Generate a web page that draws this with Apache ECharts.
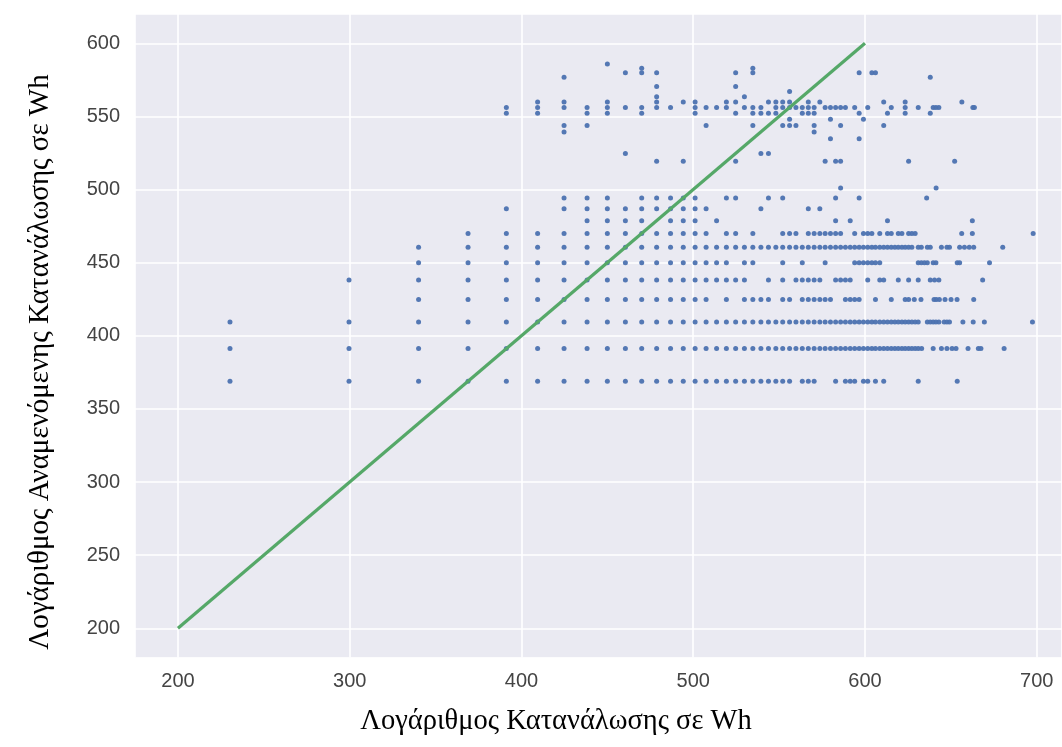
<!DOCTYPE html>
<html>
<head>
<meta charset="utf-8">
<title>Λογάριθμος Κατανάλωσης</title>
<script src="https://cdn.jsdelivr.net/npm/echarts@6/dist/echarts.min.js"></script>
<style>
  html, body { margin: 0; padding: 0; background: #ffffff; }
  #chart { width: 1062px; height: 747px; }
</style>
</head>
<body>
<div id="chart"></div>
<script>
// Axis titles
const xTitle = 'Λογάριθμος Κατανάλωσης σε Wh';
const yTitle = 'Λογάριθμος Αναμενόμενης Κατανάλωσης σε Wh';

// Reference line y = x, drawn between these two values
const diagonalEnds = [200, 600];

// Predicted values (rows) and the consumption values observed at each row
const predRows = [368.9, 391.2, 409.4, 424.8, 438.2, 450.0, 460.5, 470.0, 478.7, 486.8, 494.2, 501.1];

const actual368 = [230.3, 299.6, 340.1, 368.9, 391.2, 409.4, 424.8, 438.2, 450.0, 460.5, 470.0, 478.7, 486.8, 494.2, 501.1, 507.5, 513.6, 519.3, 524.7, 529.8, 534.7, 539.4, 543.8, 548.1, 552.1, 556.1, 563.5, 567.0, 570.4, 582.9, 588.6, 591.4, 594.0, 599.1, 601.6, 606.1, 610.9, 631.0, 653.7];
const actual391 = [230.3, 299.6, 340.1, 368.9, 391.2, 409.4, 424.8, 438.2, 450.0, 460.5, 470.0, 478.7, 486.8, 494.2, 501.1, 507.5, 513.6, 519.3, 524.7, 529.8, 534.7, 539.4, 543.8, 548.1, 552.1, 556.1, 559.8, 563.5, 567.0, 570.4, 573.7, 576.8, 579.9, 582.9, 585.8, 588.6, 591.4, 594.0, 596.6, 599.1, 601.6, 604.0, 606.1, 608.6, 610.9, 613.1, 615.3, 617.4, 619.4, 621.5, 623.4, 625.4, 627.3, 629.2, 631.0, 633.0, 639.7, 644.5, 647.7, 650.7, 653.0, 660.0, 666.0, 667.5, 681.0];
const actual409 = [230.3, 299.6, 340.1, 368.9, 391.2, 409.4, 424.8, 438.2, 450.0, 460.5, 470.0, 478.7, 486.8, 494.2, 501.1, 507.5, 513.6, 519.3, 524.7, 529.8, 534.7, 539.4, 543.8, 548.1, 552.1, 556.1, 559.8, 563.5, 567.0, 570.4, 573.7, 576.8, 579.9, 582.9, 585.8, 588.6, 591.4, 594.0, 596.6, 599.1, 601.6, 604.0, 606.1, 608.6, 610.9, 613.1, 615.3, 617.4, 619.4, 621.5, 623.4, 625.4, 627.3, 629.2, 631.0, 636.3, 638.0, 639.7, 641.3, 643.0, 646.1, 647.7, 649.2, 657.0, 663.0, 669.5, 697.5];
const actual424 = [340.1, 368.9, 391.2, 409.4, 424.8, 438.2, 450.0, 460.5, 470.0, 478.7, 486.8, 494.2, 501.1, 507.5, 519.3, 529.8, 534.7, 539.4, 543.8, 552.1, 556.1, 563.5, 567.0, 570.4, 573.7, 576.8, 579.9, 588.6, 591.4, 594.0, 596.6, 606.1, 615.3, 623.4, 625.4, 628.7, 632.6, 640.2, 641.5, 643.3, 646.6, 650.1, 653.6, 663.3];
const actual438 = [299.6, 340.1, 368.9, 391.2, 409.4, 424.8, 438.2, 450.0, 460.5, 470.0, 478.7, 486.8, 494.2, 501.1, 507.5, 513.6, 519.3, 524.7, 529.8, 543.8, 552.1, 559.8, 563.5, 567.0, 570.4, 573.7, 582.9, 585.8, 588.6, 591.4, 601.6, 608.6, 610.9, 619.4, 625.4, 631.0, 638.0, 640.5, 643.0, 668.5];
const actual450 = [340.1, 368.9, 391.2, 409.4, 424.8, 438.2, 450.0, 460.5, 470.0, 478.7, 486.8, 494.2, 501.1, 507.5, 513.6, 519.3, 529.8, 534.7, 552.1, 563.5, 576.8, 594.0, 596.6, 599.1, 601.6, 604.0, 606.1, 608.6, 631.0, 632.8, 634.6, 636.3, 639.7, 641.3, 653.7, 655.1, 672.5];
const actual460 = [340.1, 368.9, 391.2, 409.4, 424.8, 438.2, 450.0, 460.5, 470.0, 478.7, 486.8, 494.2, 501.1, 507.5, 513.6, 519.3, 524.7, 529.8, 534.7, 539.4, 543.8, 548.1, 552.1, 556.1, 559.8, 563.5, 567.0, 570.4, 573.7, 576.8, 579.9, 582.9, 585.8, 588.6, 591.4, 594.0, 596.6, 599.1, 601.6, 604.0, 606.1, 608.6, 610.9, 613.1, 615.3, 617.4, 619.4, 621.5, 623.4, 625.4, 627.3, 631.0, 632.8, 636.3, 638.0, 644.5, 647.7, 649.2, 655.1, 657.9, 660.7, 663.3, 680.2];
const actual470 = [368.9, 391.2, 409.4, 424.8, 438.2, 450.0, 460.5, 470.0, 478.7, 486.8, 494.2, 501.1, 507.5, 519.3, 524.7, 534.7, 552.1, 556.1, 559.8, 567.0, 570.4, 573.7, 576.8, 579.9, 582.9, 585.8, 594.0, 599.1, 601.6, 604.0, 608.6, 613.1, 615.3, 619.4, 621.5, 625.4, 627.3, 629.2, 656.3, 662.5, 697.9];
const actual478 = [438.2, 450.0, 460.5, 470.0, 486.8, 494.2, 501.1, 513.6, 582.9, 591.4, 613.1, 662.5];
const actual487 = [391.2, 424.8, 438.2, 450.0, 460.5, 470.0, 478.7, 486.8, 494.2, 501.1, 507.5, 539.4, 567.0, 573.7];
const actual494 = [424.8, 438.2, 450.0, 470.0, 478.7, 486.8, 494.2, 501.1, 519.3, 524.7, 543.8, 552.1, 582.9, 596.6, 635.9];
const actual501 = [585.8, 641.4];

// Upper group of predictions
const upperRows = [585.8, 582.9, 579.9, 576.8, 570.4, 567.0, 563.5, 559.8, 556.1, 552.1, 548.1, 543.8, 539.4, 534.7, 524.7, 519.3];

const actual586 = [450.0];
const actual583 = [470.0, 534.7];
const actual580 = [460.5, 470.0, 478.7, 524.7, 534.7, 596.6, 604.0, 606.1];
const actual577 = [424.8, 638.0];
const actual570 = [478.7, 524.7];
const actual567 = [556.1];
const actual564 = [478.7, 529.8];
const actual560 = [409.4, 424.8, 450.0, 478.7, 494.2, 501.1, 519.3, 524.7, 543.8, 548.1, 552.1, 556.1, 567.0, 573.7, 610.9, 623.4, 656.4];
const actual556 = [391.2, 409.4, 424.8, 438.2, 450.0, 460.5, 470.0, 478.7, 486.8, 501.1, 507.5, 513.6, 519.3, 529.8, 534.7, 539.4, 548.1, 552.1, 556.1, 559.8, 563.5, 567.0, 570.4, 576.8, 579.9, 582.9, 585.8, 588.6, 594.0, 601.6, 615.3, 623.4, 631.0, 639.7, 641.3, 643.0, 662.8, 663.7];
const actual552 = [391.2, 409.4, 438.2, 450.0, 470.0, 501.1, 524.7, 534.7, 539.4, 543.8, 548.1, 563.5, 567.0, 570.4, 596.6, 613.1, 623.4, 638.0];
const actual548 = [556.1, 579.9, 599.1];
const actual544 = [424.8, 438.2, 507.5, 534.7, 552.1, 556.1, 559.8, 570.4, 585.8, 610.9];
const actual539 = [424.8, 570.4];
const actual535 = [579.9, 596.6];
const actual525 = [460.5, 539.4, 543.8];
const actual519 = [478.7, 494.2, 524.7, 576.8, 582.9, 585.8, 625.4, 652.2];

// Axis tick values
const xTicks = [200, 300, 400, 500, 600, 700];
const yTicks = [200, 250, 300, 350, 400, 450, 500, 550, 600];

// Pair each row value with its list of observed values
const rowLists = [
  actual368, actual391, actual409, actual424, actual438, actual450,
  actual460, actual470, actual478, actual487, actual494, actual501
];
const upperLists = [
  actual586, actual583, actual580, actual577, actual570, actual567, actual564, actual560,
  actual556, actual552, actual548, actual544, actual539, actual535, actual525, actual519
];

const points = [];
predRows.forEach((y, i) => rowLists[i].forEach(x => points.push([x, y])));
upperRows.forEach((y, i) => upperLists[i].forEach(x => points.push([x, y])));

const chart = echarts.init(document.getElementById('chart'), null, { renderer: 'canvas' });

const gridLine = { show: true, lineStyle: { color: '#ffffff', width: 1.6 } };
const tickLabel = { color: '#444444', fontSize: 20, fontFamily: 'Liberation Sans, Arial, sans-serif' };
const titleFont = 'Liberation Serif, Times New Roman, serif';

chart.setOption({
  animation: false,
  backgroundColor: '#ffffff',
  grid: {
    left: 135, right: 0, top: 14, bottom: 89.5,
    show: true, backgroundColor: '#eaeaf2', borderWidth: 0
  },
  xAxis: {
    type: 'value',
    min: 175, max: 714.7,
    minInterval: xTicks[1] - xTicks[0],
    maxInterval: xTicks[1] - xTicks[0],
    axisLine: { show: false },
    axisTick: { show: false },
    splitLine: gridLine,
    axisLabel: Object.assign({ margin: 14, showMinLabel: false, showMaxLabel: false }, tickLabel)
  },
  yAxis: {
    type: 'value',
    min: 180, max: 620,
    minInterval: yTicks[1] - yTicks[0],
    maxInterval: yTicks[1] - yTicks[0],
    axisLine: { show: false },
    axisTick: { show: false },
    splitLine: gridLine,
    axisLabel: Object.assign({ margin: 15, showMinLabel: false, showMaxLabel: false }, tickLabel)
  },
  graphic: [
    {
      type: 'text', x: 556, y: 722,
      style: { text: xTitle, fill: '#000000', fontSize: 28.5, fontFamily: titleFont,
               textAlign: 'center', textVerticalAlign: 'middle' }
    },
    {
      type: 'text', x: 40, y: 362, rotation: Math.PI / 2,
      style: { text: yTitle, fill: '#000000', fontSize: 29, fontFamily: titleFont,
               textAlign: 'center', textVerticalAlign: 'middle' }
    }
  ],
  series: [
    {
      type: 'scatter',
      data: points,
      symbolSize: 5,
      itemStyle: { color: '#4c72b0', opacity: 0.95 },
      z: 2
    },
    {
      type: 'line',
      data: [[diagonalEnds[0], diagonalEnds[0]], [diagonalEnds[1], diagonalEnds[1]]],
      showSymbol: false,
      symbol: 'none',
      lineStyle: { color: '#55a868', width: 3.2 },
      z: 3
    }
  ]
});
</script>
</body>
</html>
